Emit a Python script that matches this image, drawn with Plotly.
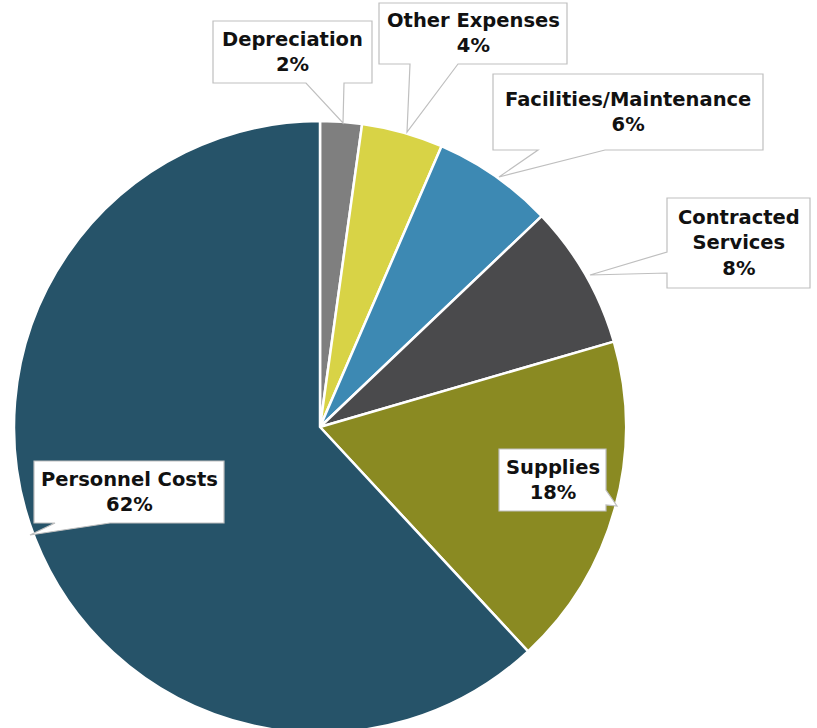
import plotly.graph_objects as go

W, H = 817, 734  # figure slightly taller than the 728 window; the extra is clipped

categories = ["Depreciation", "Other Expenses", "Facilities/Maintenance",
              "Contracted Services", "Supplies", "Personnel Costs"]
values = [2.2, 4.3, 6.4, 7.6, 17.6, 61.9]
colors = ["#7F7F7F", "#D8D346", "#3D89B3", "#4A4A4C", "#8A8A22", "#265369"]
label_lines = {
    "Depreciation": ["Depreciation"],
    "Other Expenses": ["Other Expenses"],
    "Facilities/Maintenance": ["Facilities/Maintenance"],
    "Contracted Services": ["Contracted", "Services"],
    "Supplies": ["Supplies"],
    "Personnel Costs": ["Personnel Costs"],
}

# callout geometry in pixels: box (l, t, r, b), wedge base points and tip, edge
callouts = {
    "Depreciation": dict(box=(213, 21, 372, 83), edge="bottom", base=(306, 344), tip=(343, 123)),
    "Other Expenses": dict(box=(379, 3, 567, 64), edge="bottom", base=(410, 458), tip=(407, 132)),
    "Facilities/Maintenance": dict(box=(493, 74, 763, 150), edge="bottom", base=(538, 605), tip=(499, 177)),
    "Contracted Services": dict(box=(667, 198, 810, 288), edge="left", base=(252, 273), tip=(590, 275)),
    "Supplies": dict(box=(499, 449, 606, 511), edge="right", base=(490, 505), tip=(617, 506)),
    "Personnel Costs": dict(box=(34, 461, 224, 523), edge="bottom", base=(55, 110), tip=(30, 535)),
}


def px(x, y):
    return x / W, 1 - y / H


def callout_path(c):
    l, t, r, b = c["box"]
    b0, b1 = c["base"]
    tx, ty = c["tip"]
    e = c["edge"]
    pts = [(l, t), (r, t)]
    if e == "right":
        pts += [(r, b0), (tx, ty), (r, b1)]
    pts += [(r, b)]
    if e == "bottom":
        pts += [(max(b0, b1), b), (tx, ty), (min(b0, b1), b)]
    pts += [(l, b)]
    if e == "left":
        pts += [(l, max(b0, b1)), (tx, ty), (l, min(b0, b1))]
    s = ""
    for i, (x, y) in enumerate(pts):
        X, Y = px(x, y)
        s += ("M" if i == 0 else "L") + f"{X:.5f},{Y:.5f} "
    return s + "Z"


fig = go.Figure()
fig.add_trace(go.Pie(
    labels=categories,
    values=values,
    sort=False,
    direction="clockwise",
    rotation=0,
    marker=dict(colors=colors, line=dict(color="white", width=2.5)),
    textinfo="none",
    hoverinfo="label+percent",
    showlegend=False,
    domain=dict(x=[14 / W, 626 / W], y=[1 - 733 / H, 1 - 121 / H]),
))

total = sum(values)
shapes = []
annotations = []
for cat, v in zip(categories, values):
    c = callouts[cat]
    shapes.append(dict(type="path", xref="paper", yref="paper", path=callout_path(c),
                       fillcolor="white", line=dict(color="#BFBFBF", width=1.2), layer="above"))
    l, t, r, b = c["box"]
    pct = f"{round(v / total * 100)}%"
    text = "<br>".join(label_lines[cat] + [pct])
    cx, cy = px((l + r) / 2, (t + b) / 2)
    annotations.append(dict(x=cx, y=cy, xref="paper", yref="paper", text=text,
                            showarrow=False, xanchor="center", yanchor="middle",
                            font=dict(family="DejaVu Sans", size=19.5, color="#111111", weight="bold")))

fig.update_layout(
    width=W, height=H,
    margin=dict(l=0, r=0, t=0, b=0),
    paper_bgcolor="white",
    plot_bgcolor="white",
    shapes=shapes,
    annotations=annotations,
)

fig.write_html("out.html", config={"displayModeBar": False},
               post_script="document.body.style.margin='0px';document.body.style.overflow='hidden';")
